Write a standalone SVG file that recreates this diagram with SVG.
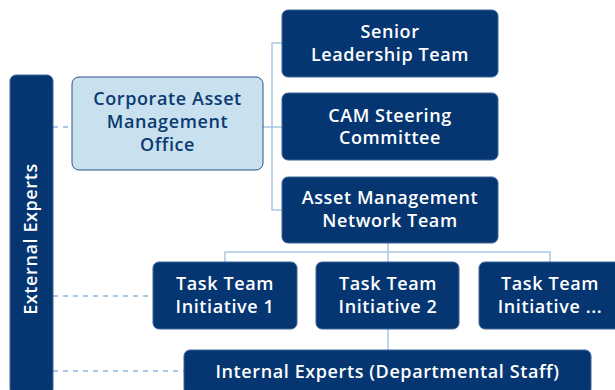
<svg xmlns="http://www.w3.org/2000/svg" width="615" height="390" viewBox="0 0 615 390">
<style>
.n{fill:#053672;stroke:#3d6496;stroke-width:1}
.t{font-family:"Open Sans","Liberation Sans",sans-serif;font-weight:600;font-size:18px;letter-spacing:0.6px;fill:#fff;text-anchor:middle}
.tl{font-family:"Open Sans","Liberation Sans",sans-serif;font-weight:600;font-size:18px;letter-spacing:0.6px;fill:#0a3a72;text-anchor:middle}
.c{fill:none;stroke:#a9c8e4;stroke-width:1.5}
.d{fill:none;stroke:#a9c8e4;stroke-width:2;stroke-dasharray:5 5}
</style>
<rect width="615" height="390" fill="#fff"/>
<g id="connectors">
<path class="c" d="M282 43H272V210H282M263 127H282"/>
<path class="c" d="M388 243V262M225 262V252H550V262M388 329V350"/>
<path class="d" d="M53 127H72M53 296H153M53 371H184"/>
</g>
<g id="external"><rect class="n" x="10" y="75" width="43" height="320" rx="6"/><text class="t" transform="translate(37 239) rotate(-90)">External Experts</text></g>
<g id="camo"><rect x="72" y="77" width="191" height="93" rx="7" fill="#c9e0ee" stroke="#2d5386" stroke-width="1"/><text class="tl" x="167.5" y="105">Corporate Asset</text><text class="tl" x="167.5" y="128">Management</text><text class="tl" x="167.5" y="151">Office</text></g>
<g id="slt"><rect class="n" x="282" y="10" width="216" height="67" rx="6"/><text class="t" x="390" y="38">Senior</text><text class="t" x="390" y="61">Leadership Team</text></g>
<g id="cam"><rect class="n" x="282" y="93" width="216" height="67" rx="6"/><text class="t" x="390" y="122">CAM Steering</text><text class="t" x="390" y="144">Committee</text></g>
<g id="amnt"><rect class="n" x="282" y="177" width="216" height="66" rx="6"/><text class="t" x="390" y="204">Asset Management</text><text class="t" x="390" y="227">Network Team</text></g>
<g id="tt1"><rect class="n" x="153" y="262" width="144" height="67" rx="6"/><text class="t" x="225" y="290">Task Team</text><text class="t" x="225" y="313">Initiative 1</text></g>
<g id="tt2"><rect class="n" x="316" y="262" width="143" height="67" rx="6"/><text class="t" x="388" y="290">Task Team</text><text class="t" x="388" y="313">Initiative 2</text></g>
<g id="tt3"><rect class="n" x="479" y="262" width="144" height="67" rx="6"/><text class="t" x="550" y="290">Task Team</text><text class="t" x="550" y="313">Initiative ...</text></g>
<g id="internal"><rect class="n" x="184" y="350" width="407" height="45" rx="6"/><text class="t" x="387.5" y="378">Internal Experts (Departmental Staff)</text></g>
</svg>
